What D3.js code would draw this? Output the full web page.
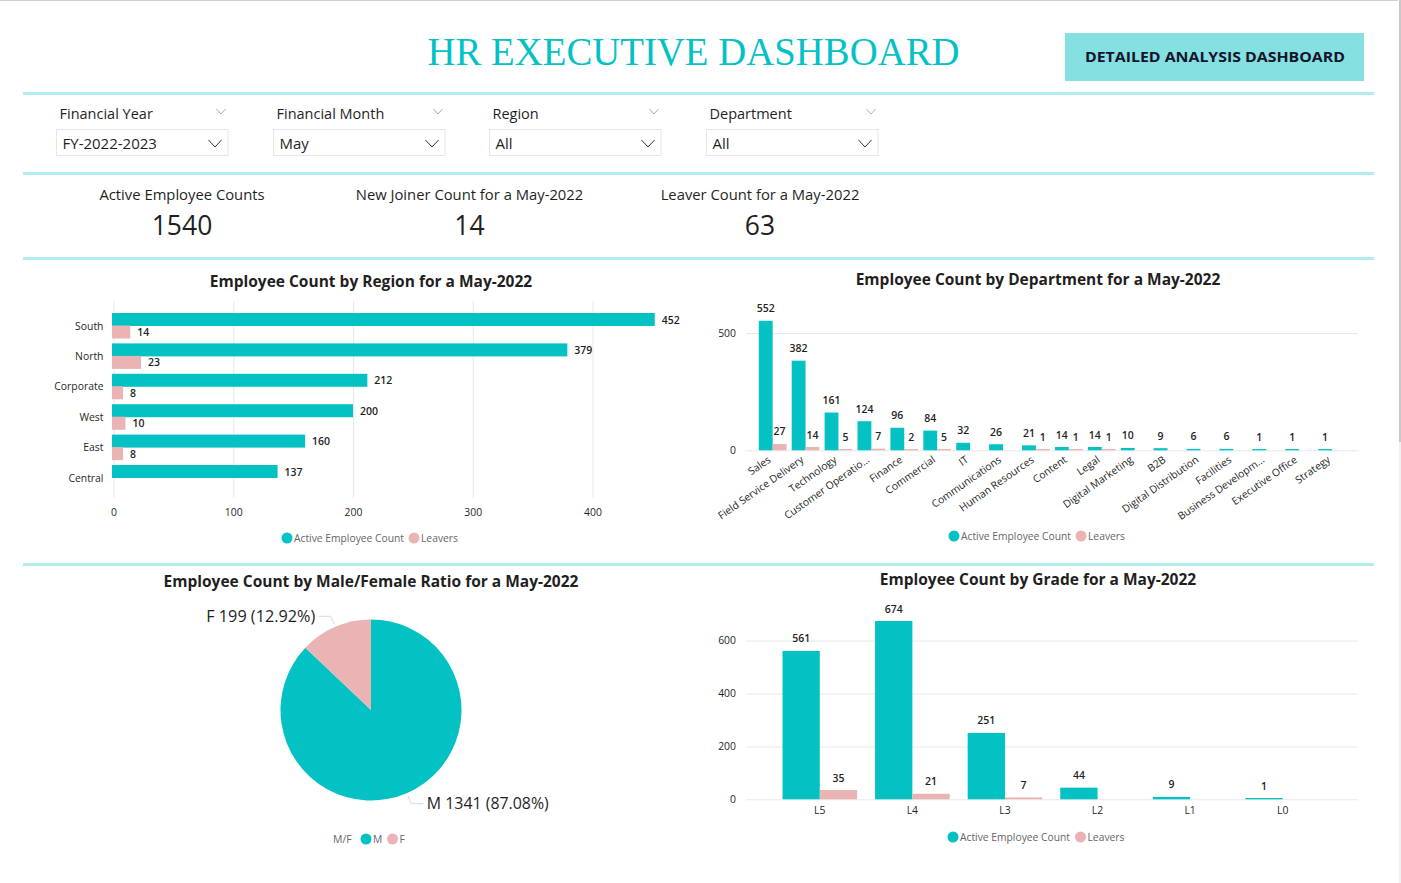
<!DOCTYPE html>
<html>
<head>
<meta charset="utf-8">
<title>HR Executive Dashboard</title>
<script src="https://cdn.jsdelivr.net/npm/d3@7"></script>
<style>
    html, body { margin: 0; padding: 0; background: #fff; overflow: hidden; }
    text { font-family: "Open Sans", "Noto Sans", sans-serif; fill: #1f1f1f; }
</style>
</head>
<body>
<div id="svg"></div>
<script>
var teal = "#04c1c4";
var pink = "#e9b4b3";
var rule = "#b3ecec";
var grid = "#e8e8e8";

var seriesNames = ["Active Employee Count", "Leavers"];

var regions = ["South", "North", "Corporate", "West", "East", "Central"];
var regionActive = [452, 379, 212, 200, 160, 137];
var regionLeavers = [14, 23, 8, 10, 8, null];
var regionTicks = [0, 100, 200, 300, 400];

var departments = ["Sales", "Field Service Delivery", "Technology", "Customer Operatio...", "Finance", "Commercial", "IT",
    "Communications", "Human Resources", "Content", "Legal", "Digital Marketing", "B2B", "Digital Distribution",
    "Facilities", "Business Developm...", "Executive Office", "Strategy"];
var departmentActive = [552, 382, 161, 124, 96, 84, 32, 26, 21, 14, 14, 10, 9, 6, 6, 1, 1, 1];
var departmentLeavers = [27, 14, 5, 7, 2, 5, null, null, 1, 1, 1, null, null, null, null, null, null, null];
var departmentTicks = [0, 500];

var grades = ["L5", "L4", "L3", "L2", "L1", "L0"];
var gradeActive = [561, 674, 251, 44, 9, 1];
var gradeLeavers = [35, 21, 7, null, null, null];
var gradeTicks = [0, 200, 400, 600];

var genders = ["M", "F"];
var genderCounts = [1341, 199];
var genderLabels = ["M 1341 (87.08%)", "F 199 (12.92%)"];

var filterLabels = ["Financial Year", "Financial Month", "Region", "Department"];
var filterValues = ["FY-2022-2023", "May", "All", "All"];
var kpiLabels = ["Active Employee Counts", "New Joiner Count for a May-2022", "Leaver Count for a May-2022"];
var kpiValues = ["1540", "14", "63"];

var svg = d3.select('#svg').append('svg')
    .attr('width', 1401)
    .attr('height', 883);

// page frame and scrollbar
svg.append("line").attr("x1", 0).attr("x2", 1398).attr("y1", 0.5).attr("y2", 0.5).attr("stroke", "#cfcfcf");
svg.append("rect").attr("x", 1399).attr("y", 0).attr("width", 2).attr("height", 442).attr("fill", "#c9c9c9");
svg.append("rect").attr("x", 1399).attr("y", 442).attr("width", 2).attr("height", 441).attr("fill", "#f0f0f0");

// section rules
[93.5, 173.5, 258.5, 564.5].forEach(function(y) {
    svg.append("line")
        .attr("x1", 23).attr("x2", 1374)
        .attr("y1", y).attr("y2", y)
        .attr("stroke", rule)
        .attr("stroke-width", 3);
});

svg.append("text")
    .attr("x", 427.5).attr("y", 65)
    .attr("textLength", 532)
    .attr("lengthAdjust", "spacingAndGlyphs")
    .style("font-family", "'Liberation Serif', serif")
    .style("font-size", "41px")
    .style("fill", teal)
    .text("HR EXECUTIVE DASHBOARD");

svg.append("rect")
    .attr("x", 1065).attr("y", 33)
    .attr("width", 299).attr("height", 48)
    .attr("fill", "#84e0e1");
svg.append("text")
    .attr("x", 1085).attr("y", 62)
    .attr("textLength", 260)
    .attr("lengthAdjust", "spacingAndGlyphs")
    .style("font-size", "15px")
    .style("font-weight", 700)
    .style("fill", "#14142b")
    .text("DETAILED ANALYSIS DASHBOARD");

// filter dropdowns
var filterX = d3.scaleOrdinal().domain(filterLabels).range([56.5, 273.5, 489.5, 706.5]);
filterLabels.forEach(function(name, i) {
    var x0 = filterX(name);
    svg.append("text")
        .attr("x", x0 + 3).attr("y", 119)
        .style("font-size", "14.5px")
        .text(name);
    svg.append("path")
        .attr("d", "M" + (x0 + 160) + ",109l4.5,5l4.5,-5")
        .attr("fill", "none")
        .attr("stroke", i == 3 ? "#d9a0a8" : "#a9a9b5");
    svg.append("rect")
        .attr("x", x0).attr("y", 129.5)
        .attr("width", 171.5).attr("height", 26)
        .attr("fill", "#fff")
        .attr("stroke", "#e6e6e6");
    svg.append("text")
        .attr("x", x0 + 6).attr("y", 149)
        .style("font-size", "15px")
        .text(filterValues[i]);
    svg.append("path")
        .attr("d", "M" + (x0 + 152) + ",140l6.5,7l6.5,-7")
        .attr("fill", "none")
        .attr("stroke", "#333");
});

// KPI cards
var kpiX = [182, 469.5, 760];
kpiLabels.forEach(function(name, i) {
    svg.append("text")
        .attr("x", kpiX[i]).attr("y", 200)
        .attr("text-anchor", "middle")
        .style("font-size", "14.8px")
        .text(name);
    svg.append("text")
        .attr("x", kpiX[i]).attr("y", 235)
        .attr("text-anchor", "middle")
        .style("font-size", "26.5px")
        .text(kpiValues[i]);
});

function chartTitle(text, x, y) {
    svg.append("text")
        .attr("x", x).attr("y", y)
        .attr("text-anchor", "middle")
        .style("font-size", "15.5px")
        .style("font-weight", 700)
        .text(text);
}

function legend(cx, y, names, colors) {
    names.forEach(function(name, i) {
        svg.append("circle")
            .attr("cx", cx[i]).attr("cy", y)
            .attr("r", 5.5)
            .attr("fill", colors[i]);
        svg.append("text")
            .attr("x", cx[i] + 7).attr("y", y + 4)
            .style("font-size", "10.3px")
            .style("fill", "#666")
            .text(name);
    });
}

function styleAxis(g) {
    g.select(".domain").remove();
    g.selectAll(".tick line").attr("stroke", grid);
    g.selectAll(".tick text").style("font-size", "10.4px").style("font-family", null).attr("fill", null);
}

// horizontal bars by region
function drawRegion() {
    var x = d3.scaleLinear().domain([0, 400]).range([113.5, 592.5]);
    var y = d3.scaleBand().domain(regions).range([311, 493.4]);
    var sub = d3.scaleBand().domain(seriesNames).range([2, 27]);
    var x0 = x(0) - 1.5;

    svg.append("g")
        .attr("transform", "translate(0,498)")
        .call(d3.axisBottom(x).tickValues(regionTicks).tickSize(-197).tickPadding(11))
        .call(styleAxis);

    svg.append("g")
        .attr("transform", "translate(112,0)")
        .call(d3.axisLeft(y).tickSize(0).tickPadding(8.5))
        .call(styleAxis);

    [regionActive, regionLeavers].forEach(function(values, s) {
        var rows = regions.map(function(r, i) { return {r: r, v: values[i]}; }).filter(function(d) { return d.v != null; });
        svg.append("g").selectAll("rect").data(rows).join("rect")
            .attr("x", x0)
            .attr("y", function(d) { return y(d.r) + sub(seriesNames[s]); })
            .attr("width", function(d) { return x(d.v) - x(0) + 1.5; })
            .attr("height", 13)
            .attr("fill", s == 0 ? teal : pink);
        svg.append("g").selectAll("text").data(rows).join("text")
            .attr("x", function(d) { return x(d.v) + 7; })
            .attr("y", function(d) { return y(d.r) + sub(seriesNames[s]) + 10.5; })
            .style("font-size", "10.5px")
            .style("font-weight", 600)
            .text(function(d) { return d.v; });
    });
}

// vertical grouped columns, used by department and grade
function drawColumns(cats, active, leavers, ticks, o) {
    var y = d3.scaleLinear().domain([0, o.top]).range([o.base, o.topY]);
    var x = d3.scaleBand().domain(cats).range(o.xRange);
    var sub = d3.scaleBand().domain(seriesNames).range([o.pad, x.bandwidth() - o.pad]);

    svg.append("g")
        .attr("transform", "translate(746,0)")
        .call(d3.axisLeft(y).tickValues(ticks).tickSize(-612).tickPadding(10))
        .call(styleAxis);

    var axisG = svg.append("g")
        .attr("transform", "translate(0," + o.base + ")")
        .call(d3.axisBottom(x).tickSize(0).tickPadding(o.labelPad));
    axisG.call(styleAxis);
    if (o.rotate) {
        axisG.selectAll(".tick text")
            .attr("text-anchor", "end")
            .attr("y", 0).attr("dy", 0)
            .attr("transform", "translate(-1,11) rotate(-35)");
    }

    [active, leavers].forEach(function(values, s) {
        var rows = cats.map(function(c, i) { return {c: c, v: values[i]}; }).filter(function(d) { return d.v != null; });
        function barTop(d) { return o.base - Math.max(o.base - y(d.v), 1.3); }
        svg.append("g").selectAll("rect").data(rows).join("rect")
            .attr("x", function(d) { return x(d.c) + sub(seriesNames[s]); })
            .attr("y", barTop)
            .attr("width", sub.bandwidth())
            .attr("height", function(d) { return o.base - barTop(d); })
            .attr("fill", s == 0 ? teal : pink);
        svg.append("g").selectAll("text").data(rows).join("text")
            .attr("x", function(d) { return x(d.c) + sub(seriesNames[s]) + sub.bandwidth() / 2; })
            .attr("y", function(d) { return barTop(d) - 8.5; })
            .attr("text-anchor", "middle")
            .style("font-size", "10.5px")
            .style("font-weight", 600)
            .text(function(d) { return d.v; });
    });
}

function drawPie() {
    var cx = 371, cy = 710, r = 90.5;
    var pie = d3.pie().sort(null).value(function(d) { return d; });
    var arcs = pie(genderCounts);
    var arc = d3.arc().innerRadius(0).outerRadius(r);
    var colors = [teal, pink];
    var g = svg.append("g").attr("transform", "translate(" + cx + "," + cy + ")");

    g.selectAll("path").data(arcs).join("path")
        .attr("d", arc)
        .attr("fill", function(d, i) { return colors[i]; });

    arcs.forEach(function(a, i) {
        var mid = (a.startAngle + a.endAngle) / 2;
        var side = Math.sin(mid) > 0 ? 1 : -1;
        var p1 = [Math.sin(mid) * (r + 3), -Math.cos(mid) * (r + 3)];
        var p2 = [Math.sin(mid) * (r + 11.5), -Math.cos(mid) * (r + 11.5)];
        var p3 = [p2[0] + side * 12, p2[1]];
        g.append("path")
            .attr("d", d3.line()([p1, p2, p3]))
            .attr("fill", "none")
            .attr("stroke", "#d9d9d9");
        g.append("text")
            .attr("x", p3[0] + side * 3.5).attr("y", p3[1] + 5.5)
            .attr("text-anchor", side > 0 ? "start" : "end")
            .attr("textLength", side > 0 ? 122 : 109)
            .attr("lengthAdjust", "spacingAndGlyphs")
            .style("font-size", "16px")
            .text(genderLabels[i]);
    });
}

chartTitle("Employee Count by Region for a May-2022", 371, 286.5);
chartTitle("Employee Count by Department for a May-2022", 1038, 284.5);
chartTitle("Employee Count by Male/Female Ratio for a May-2022", 371, 586.5);
chartTitle("Employee Count by Grade for a May-2022", 1038, 584.5);

drawRegion();
drawColumns(departments, departmentActive, departmentLeavers, departmentTicks,
    {top: 500, base: 450.3, topY: 333, xRange: [756.2, 1348.5], pad: 2.6, labelPad: 8, rotate: true});
drawColumns(grades, gradeActive, gradeLeavers, gradeTicks,
    {top: 600, base: 799.3, topY: 640.6, xRange: [773.5, 1329], pad: 9, labelPad: 7, rotate: false});
drawPie();

legend([287, 414], 538, seriesNames, [teal, pink]);
legend([954, 1081], 536, seriesNames, [teal, pink]);
legend([953, 1080.5], 837, seriesNames, [teal, pink]);

svg.append("text")
    .attr("x", 333).attr("y", 843)
    .style("font-size", "10.5px")
    .style("fill", "#666")
    .text("M/F");
legend([366, 392.5], 839, genders, [teal, pink]);
</script>
</body>
</html>
